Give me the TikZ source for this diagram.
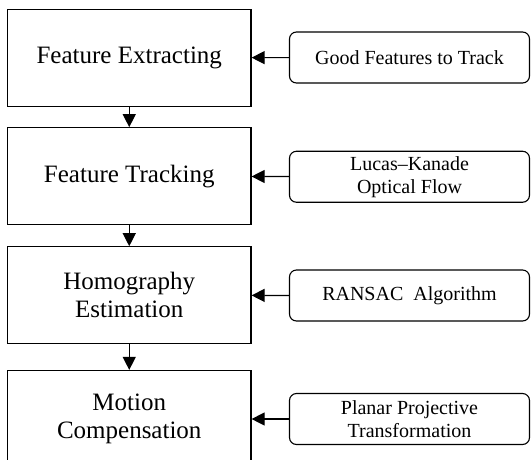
\documentclass[tikz,border=0pt]{standalone}
\usepackage{fontspec}
\setmainfont{Liberation Serif}
\usetikzlibrary{arrows.meta}
\begin{document}
\begin{tikzpicture}[x=1pt,y=-1pt,
  mainbox/.style={draw, line width=1.2pt, minimum width=243.5pt, minimum height=97pt, inner sep=0pt, align=center, font=\fontsize{25}{28}\selectfont},
  sidebox/.style={draw, line width=1.1pt, rounded corners=7pt, minimum width=240pt, minimum height=51pt, inner sep=0pt, align=center, font=\fontsize{20}{23}\selectfont},
  conn/.style={line width=1.2pt, -{Triangle[length=13pt,width=13pt]}}]
\useasboundingbox (0,0) rectangle (531,459);
\begin{scope}
\clip (0,0) rectangle (531,459);
\node[mainbox] (b1) at (129.25,57.75) {Feature Extracting};
\node[mainbox] (b2) at (129.25,176.25) {Feature Tracking};
\node[mainbox] (b3) at (129.25,295.3) {Homography\\Estimation};
\node[mainbox] (b4) at (129.25,419) {Motion\\Compensation};
\node[sidebox] (r1) at (409.5,57.5) {Good Features to Track};
\node[sidebox] (r2) at (409.5,176.75) {Lucas–Kanade\\Optical Flow};
\node[sidebox] (r3) at (409.5,295.5) {RANSAC\ \ Algorithm};
\node[sidebox] (r4) at (409.5,419) {Planar Projective\\Transformation};
\draw[conn] (b1) -- (b2);
\draw[conn] (b2) -- (b3);
\draw[conn] (b3) -- (b4);
\draw[conn] (r1) -- (b1);
\draw[conn] (r2) -- (b2);
\draw[conn] (r3) -- (b3);
\draw[conn] (r4) -- (b4);
\end{scope}
\end{tikzpicture}
\end{document}
